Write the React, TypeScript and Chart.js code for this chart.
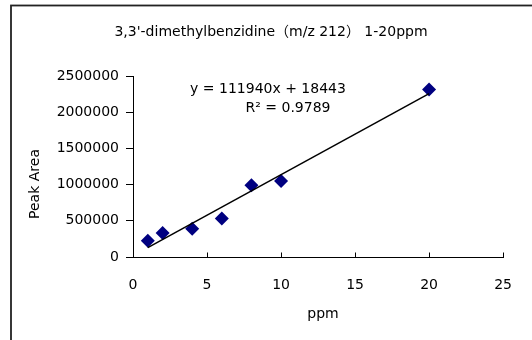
import React, { useEffect, useRef } from "react";
import { Chart, registerables } from "chart.js";

Chart.register(...registerables);

const TITLE = "3,3'-dimethylbenzidine（m/z 212） 1-20ppm";
const X_TITLE = "ppm";
const Y_TITLE = "Peak Area";
const EQUATION = "y = 111940x + 18443";
const R_SQUARED = "R² = 0.9789";

const ppm = [1, 2, 4, 6, 8, 10, 20];
const peakArea = [224000, 330000, 390000, 532000, 992000, 1051000, 2314000];

const slope = 111940;
const intercept = 18443;
const trendX = [1, 20];

const xTicks = [0, 5, 10, 15, 20, 25];
const yTicks = [0, 500000, 1000000, 1500000, 2000000, 2500000];

const FONT = "'DejaVu Sans', 'Noto Sans CJK JP', sans-serif";

export default function App() {
  const ref = useRef<HTMLCanvasElement | null>(null);

  useEffect(() => {
    if (!ref.current) return;
    const textPlugin = {
      id: "texts",
      beforeDraw(chart: any) {
        const ctx = chart.ctx;
        ctx.save();
        ctx.fillStyle = "#ffffff";
        ctx.fillRect(0, 0, chart.width, chart.height);
        ctx.strokeStyle = "#222222";
        ctx.lineWidth = 1.8;
        ctx.strokeRect(11, 5.5, 700, 700);
        ctx.restore();
      },
      afterDraw(chart: any) {
        const ctx = chart.ctx;
        const xs = chart.scales.x;
        ctx.save();
        ctx.strokeStyle = "#000";
        ctx.lineWidth = 1;
        const b = Math.round(chart.chartArea.bottom) + 0.5;
        xTicks.forEach((v) => {
          const px = Math.round(xs.getPixelForValue(v)) + 0.5;
          ctx.beginPath();
          ctx.moveTo(px, b);
          ctx.lineTo(px, b - 5);
          ctx.stroke();
        });
        ctx.fillStyle = "#000";
        ctx.textAlign = "center";
        ctx.textBaseline = "middle";
        ctx.font = "14px " + FONT;
        ctx.fillText(TITLE, 271, 32);
        ctx.fillText(X_TITLE, 323, 314);
        ctx.fillText(EQUATION, 268, 89);
        ctx.fillText(R_SQUARED, 288, 108);
        ctx.translate(35, 184);
        ctx.rotate(-Math.PI / 2);
        ctx.fillText(Y_TITLE, 0, 0);
        ctx.restore();
      },
    };

    const chart = new Chart(ref.current, {
      type: "scatter",
      data: {
        datasets: [
          {
            label: "data",
            data: ppm.map((x, i) => ({ x, y: peakArea[i] })),
            pointStyle: "rectRot",
            pointRadius: 7,
            pointBackgroundColor: "#000080",
            pointBorderColor: "#000080",
            pointBorderWidth: 0,
            showLine: false,
            order: 2,
          },
          {
            label: "trend",
            data: trendX.map((x) => ({ x, y: slope * x + intercept })),
            showLine: true,
            borderColor: "#000",
            borderWidth: 1.5,
            pointRadius: 0,
            order: 1,
          },
        ],
      },
      options: {
        responsive: false,
        animation: false,
        layout: { padding: { left: 0, right: 20, top: 76, bottom: 0 } },
        plugins: {
          legend: { display: false },
          title: { display: false },
          tooltip: { enabled: false },
        },
        scales: {
          x: {
            type: "linear",
            min: 0,
            max: 25,
            afterBuildTicks: (s: any) => {
              s.ticks = xTicks.map((value) => ({ value }));
            },
            afterFit: (s: any) => {
              s.height = 83;
            },
            grid: { display: true, drawOnChartArea: false, drawTicks: false },
            border: { color: "#000", width: 1 },
            ticks: {
              color: "#000",
              font: { family: FONT, size: 14 },
              padding: 20,
              maxRotation: 0,
              callback: (v: any) => String(v),
            },
          },
          y: {
            type: "linear",
            min: 0,
            max: 2500000,
            afterBuildTicks: (s: any) => {
              s.ticks = yTicks.map((value) => ({ value }));
            },
            afterFit: (s: any) => {
              s.width = 133;
            },
            grid: {
              display: true,
              drawOnChartArea: false,
              drawTicks: true,
              tickLength: 7,
              color: "#000",
            },
            border: { color: "#000", width: 1 },
            ticks: {
              color: "#000",
              font: { family: FONT, size: 14 },
              padding: 7,
              callback: (v: any) => String(v),
            },
          },
        },
      },
      plugins: [textPlugin],
    } as any);
    return () => chart.destroy();
  }, []);

  return (
    <div style={{ position: "fixed", left: 0, top: 0, width: 532, height: 340, background: "#fff" }}>
      <canvas ref={ref} width={532} height={340} style={{ display: "block", width: 532, height: 340 }} />
    </div>
  );
}
